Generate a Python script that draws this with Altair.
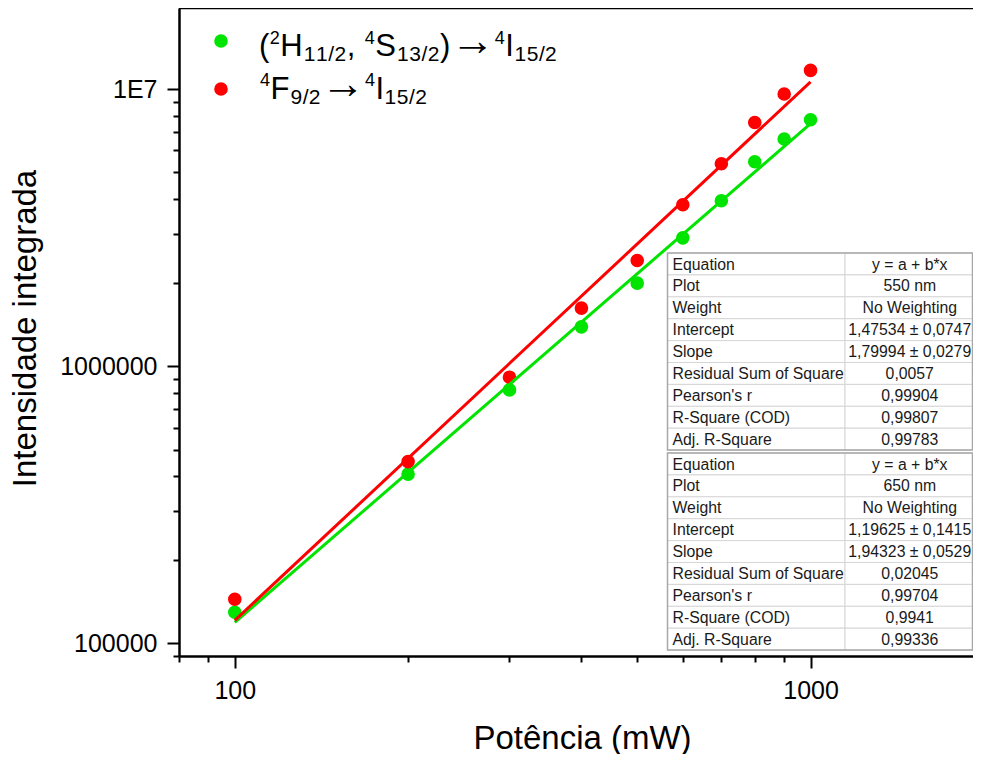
import altair as alt
import pandas as pd

# ---------------- data ----------------
power_mw = [100, 200, 300, 400, 500, 600, 700, 800, 900, 1000]
green_550 = [129400, 407700, 821000, 1386000, 1993000, 2904000, 3953000, 5465000, 6598000, 7745000]
red_650 = [144200, 452500, 912500, 1620000, 2405000, 3823000, 5375000, 7574000, 9592000, 11670000]

fit_x = [100, 1000]
fit_green = [118900, 7503000]
fit_red = [121000, 10615000]

series_names = ["550 nm", "650 nm"]
series_colors = ["#00e400", "#ff0000"]

x_ticks = [80, 90, 100, 200, 300, 400, 500, 600, 700, 800, 900, 1000]
x_major = [100, 1000]
y_ticks = [90000, 100000, 200000, 300000, 400000, 500000, 600000, 700000, 800000, 900000,
           1000000, 2000000, 3000000, 4000000, 5000000, 6000000, 7000000, 8000000, 9000000,
           10000000]
y_major = [100000, 1000000, 10000000]

table_labels = ["Equation", "Plot", "Weight", "Intercept", "Slope",
                "Residual Sum of Square", "Pearson's r", "R-Square (COD)", "Adj. R-Square"]
table_550 = ["y = a + b*x", "550 nm", "No Weighting", "1,47534 ± 0,0747", "1,79994 ± 0,0279",
             "0,0057", "0,99904", "0,99807", "0,99783"]
table_650 = ["y = a + b*x", "650 nm", "No Weighting", "1,19625 ± 0,1415", "1,94323 ± 0,0529",
             "0,02045", "0,99704", "0,9941", "0,99336"]

# legend: (text, role) pieces, role: m = main, p = superscript, b = subscript, a = arrow
legend_line1 = [("(", "m"), ("2", "p"), ("H", "m"), ("11/2", "b"), (", ", "m"),
                ("4", "p"), ("S", "m"), ("13/2", "b"), (")", "m"), ("\u2192", "a"),
                ("4", "p"), ("I", "m"), ("15/2", "b")]
legend_line2 = [("4", "p"), ("F", "m"), ("9/2", "b"), ("\u2192", "a"),
                ("4", "p"), ("I", "m"), ("15/2", "b")]

# ---------------- layout ----------------
FONT = "Liberation Sans, DejaVu Sans"
W, H = 794, 648
xscale = alt.Scale(type="log", domain=[80, 1915])
yscale = alt.Scale(type="log", domain=[90000, 19600000])
color_scale = alt.Scale(domain=series_names, range=series_colors)

pts_df = pd.DataFrame({
    "P": power_mw * 2,
    "I": green_550 + red_650,
    "s": [series_names[0]] * len(power_mw) + [series_names[1]] * len(power_mw),
})
fit_df = pd.DataFrame({
    "P": fit_x * 2,
    "I": fit_green + fit_red,
    "s": [series_names[0]] * 2 + [series_names[1]] * 2,
})

xmaj_test = " || ".join(f"datum.value == {v}" for v in x_major)
ymaj_test = " || ".join(f"datum.value == {v}" for v in y_major)

xaxis = alt.Axis(
    values=x_ticks,
    labelExpr=f"({xmaj_test}) ? format(datum.value, 'd') : ''",
    tickSize={"condition": {"test": xmaj_test, "value": 12}, "value": 6},
    tickWidth=2, tickColor="black", domainWidth=2.5, domainColor="black",
    labelFont=FONT, labelFontSize=25, labelColor="black", labelPadding=10,
    labelOverlap=False, labelFlush=False, grid=False,
    titleFont=FONT, titleFontSize=33, titleFontWeight="normal", titleColor="black",
    titleX=403, titleY=92, titleBaseline="alphabetic", titleAlign="center",
)
yaxis = alt.Axis(
    values=y_ticks,
    labelExpr=f"datum.value == 10000000 ? '1E7' : (({ymaj_test}) ? format(datum.value, 'd') : '')",
    tickSize={"condition": {"test": ymaj_test, "value": 12}, "value": 6},
    tickWidth=2, tickColor="black", domainWidth=2.5, domainColor="black",
    labelFont=FONT, labelFontSize=25, labelColor="black", labelPadding=10,
    labelOverlap=False, labelFlush=False, grid=False,
    titleFont=FONT, titleFontSize=33, titleFontWeight="normal", titleColor="black",
    titleAngle=-90, titleX=-144, titleY=320, titleBaseline="alphabetic", titleAlign="center",
)

points = alt.Chart(pts_df).mark_circle(size=185, opacity=1).encode(
    x=alt.X("P:Q", scale=xscale, axis=xaxis, title="Potência (mW)"),
    y=alt.Y("I:Q", scale=yscale, axis=yaxis, title="Intensidade integrada"),
    color=alt.Color("s:N", scale=color_scale, legend=None),
)
lines = alt.Chart(fit_df).mark_line(strokeWidth=3).encode(
    x=alt.X("P:Q", scale=xscale),
    y=alt.Y("I:Q", scale=yscale),
    color=alt.Color("s:N", scale=color_scale, legend=None),
)
top_line = alt.Chart(pd.DataFrame({"a": [0]})).mark_rule(color="black", strokeWidth=2.5).encode(
    x=alt.value(0), x2=alt.value(W), y=alt.value(0)
)

# ---------------- statistics tables ----------------
TX0, TXM, TX1 = 488.5, 666, 793.5
TTOPS = [245, 445]
RH = 21.9
cells, texts, borders = [], [], []
for t, vals in enumerate([table_550, table_650]):
    top = TTOPS[t]
    borders.append({"x0": TX0, "x1": TX1, "y0": top, "y1": top + RH * len(table_labels)})
    for r, (lab, val) in enumerate(zip(table_labels, vals)):
        y0 = top + r * RH
        cells.append({"x0": TX0, "x1": TXM, "y0": y0, "y1": y0 + RH})
        cells.append({"x0": TXM, "x1": TX1, "y0": y0, "y1": y0 + RH})
        texts.append({"px": TX0 + 5, "py": y0 + 16.5, "t": lab, "al": "left"})
        texts.append({"px": (TXM + TX1) / 2 + 1, "py": y0 + 16.5, "t": val, "al": "center"})
cells_df = pd.DataFrame(cells)
texts_df = pd.DataFrame(texts)
borders_df = pd.DataFrame(borders)


def px(f):
    return alt.X(f, type="quantitative", scale=None, axis=None)


def py(f):
    return alt.Y(f, type="quantitative", scale=None, axis=None)


cell_layer = alt.Chart(cells_df).mark_rect(fill="white", stroke="#d6d6d6", strokeWidth=1).encode(
    x=px("x0"), x2="x1", y=py("y0"), y2="y1"
)
border_layer = alt.Chart(borders_df).mark_rect(fill=None, filled=False, stroke="#a8a8a8", strokeWidth=1.5).encode(
    x=px("x0"), x2="x1", y=py("y0"), y2="y1"
)
tleft = alt.Chart(texts_df[texts_df["al"] == "left"]).mark_text(
    align="left", baseline="alphabetic", font=FONT, fontSize=15.8, color="#1a1a1a"
).encode(x=px("px"), y=py("py"), text="t:N")
tcenter = alt.Chart(texts_df[texts_df["al"] == "center"]).mark_text(
    align="center", baseline="alphabetic", font=FONT, fontSize=15.8, color="#1a1a1a"
).encode(x=px("px"), y=py("py"), text="t:N")

# ---------------- legend (glyph-by-glyph layout, slightly widened) ----------------
EM = {"(": .333, ")": .333, ",": .278, " ": .278, "/": .278, "H": .722, "S": .667,
      "F": .611, "I": .278, "\u2192": 1.0}
SIZES = {"m": 31, "p": 18, "b": 21, "a": 44}
DY = {"m": 0, "p": -12.5, "b": 5, "a": -1}
STRETCH = 1.05

seg_rows = []
for line, (x_start, base) in zip([legend_line1, legend_line2], [(80, 48), (81, 90.7)]):
    x = x_start
    for txt, role in line:
        fs = SIZES[role]
        if role == "a":
            seg_rows.append({"px": x, "py": base + DY[role], "t": txt, "fs": fs})
            x += EM[txt] * fs
            continue
        for ch in txt:
            if ch != " ":
                seg_rows.append({"px": x, "py": base + DY[role], "t": ch, "fs": fs})
            x += EM.get(ch, .556) * fs * STRETCH
seg_df = pd.DataFrame(seg_rows)
legend_text = alt.Chart(seg_df).mark_text(
    align="left", baseline="alphabetic", font=FONT, color="black"
).encode(x=px("px"), y=py("py"), text="t:N", size=alt.Size("fs:Q", scale=None, legend=None))
leg_df = pd.DataFrame({"px": [42, 42], "py": [33, 81], "c": series_colors})
legend_marks = alt.Chart(leg_df).mark_circle(size=185, opacity=1).encode(
    x=px("px"), y=py("py"), color=alt.Color("c:N", scale=None, legend=None)
)

chart = alt.layer(
    points, lines, top_line, cell_layer, border_layer, tleft, tcenter,
    legend_marks, legend_text
).properties(
    width=W, height=H,
    autosize=alt.AutoSizeParams(type="none"),
    padding={"left": 171, "top": 0, "right": 0, "bottom": 98},
    background="white",
).configure_view(stroke=None)

chart.save("out.html", embed_options={"renderer": "svg", "actions": False})
